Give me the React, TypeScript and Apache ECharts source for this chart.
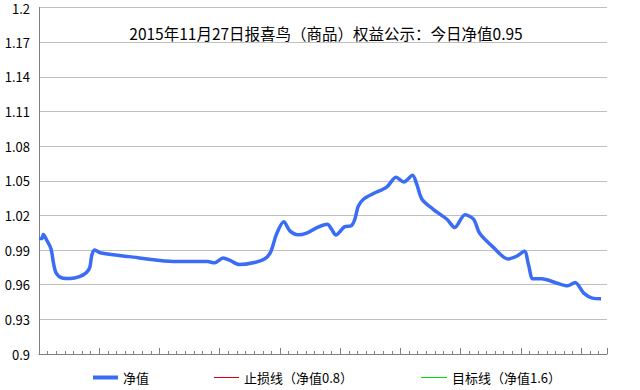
import React, { useEffect, useRef } from "react";
import * as echarts from "echarts";

const titleText = "2015年11月27日报喜鸟（商品）权益公示：今日净值0.95";
const seriesNames = ["净值", "止损线（净值0.8）", "目标线（净值1.6）"];
const yTickLabels = ["0.9", "0.93", "0.96", "0.99", "1.02", "1.05", "1.08", "1.11", "1.14", "1.17", "1.2"];

// x positions are day indices along the axis (0 .. 66)
const navX = [
  0, 0.35, 0.5, 0.9, 1.4, 1.7, 2.0, 2.7, 3.6, 4.7, 5.5, 5.9, 6.15, 6.5, 7.1, 10.5, 15.2, 17.5, 19.6, 20.4,
  21.4, 22.2, 23.3, 24.9, 26.2, 26.9, 27.6, 28.45, 29.15, 30.1, 31.1, 32.3, 33.5, 34.0, 34.5, 35.5, 36.3,
  36.7, 37.1, 37.7, 38.8, 40.4, 41.5, 42.4, 43.4, 43.9, 44.5, 45.8, 47.4, 48.3, 49.5, 50.5, 51.2, 52.8,
  54.5, 55.5, 56.4, 56.9, 57.4, 58.4, 60.2, 61.4, 62.3, 63.3, 64.3, 65.3,
];
const navY = [
  1.0, 1.0, 1.0035, 0.9985, 0.991, 0.978, 0.97, 0.9658, 0.9654, 0.967, 0.9705, 0.975, 0.986, 0.99, 0.9877,
  0.9843, 0.9803, 0.98, 0.98, 0.979, 0.9832, 0.981, 0.9774, 0.979, 0.9823, 0.988, 1.0038, 1.0144, 1.0066,
  1.0032, 1.0047, 1.0095, 1.0124, 1.008, 1.003, 1.0101, 1.0112, 1.0167, 1.028, 1.034, 1.0387, 1.0445, 1.053,
  1.049, 1.0548, 1.0468, 1.034, 1.0253, 1.0167, 1.0095, 1.0205, 1.0167, 1.0045, 0.9923, 0.9823, 0.9846,
  0.9889, 0.9766, 0.9651, 0.9651, 0.9613, 0.959, 0.962, 0.9527, 0.9484, 0.9479,
];
const stopLoss = 0.8;
const target = 1.6;
const xMax = 66;

const FONT = "'Noto Sans CJK SC', 'Noto Sans', sans-serif";

export default function App() {
  const ref = useRef<HTMLDivElement>(null);
  useEffect(() => {
    if (!ref.current) return;
    const chart = echarts.init(ref.current, null, { renderer: "svg" });
    const navData = navX.map((x, i) => [x, navY[i]]);
    chart.setOption({
      animation: false,
      backgroundColor: "#ffffff",
      textStyle: { fontFamily: FONT },
      title: {
        text: titleText,
        left: 321,
        top: 20,
        textAlign: "center",
        textStyle: { fontSize: 15.5, fontWeight: "normal", color: "#000", fontFamily: FONT },
      },
      grid: { left: 39, top: 5, right: 33, bottom: 36 },
      legend: [
        {
          data: [seriesNames[0]],
          left: 88,
          top: 366,
          icon: "rect",
          itemWidth: 25,
          itemHeight: 4,
          textStyle: { fontSize: 13, color: "#000", fontFamily: FONT },
        },
        {
          data: [seriesNames[1]],
          left: 209,
          top: 366,
          icon: "rect",
          itemWidth: 25,
          itemHeight: 1,
          textStyle: { fontSize: 13, color: "#000", fontFamily: FONT },
        },
        {
          data: [seriesNames[2]],
          left: 416,
          top: 366,
          icon: "rect",
          itemWidth: 26,
          itemHeight: 1,
          textStyle: { fontSize: 13, color: "#000", fontFamily: FONT },
        },
      ],
      xAxis: [
        {
          type: "value",
          min: 0,
          max: xMax,
          interval: 1,
          position: "bottom",
          axisLine: { show: true, lineStyle: { color: "#808080", width: 1 } },
          axisTick: { show: true, inside: true, length: 3, lineStyle: { color: "#808080" } },
          axisLabel: { show: false },
          splitLine: { show: false },
        },
        {
          type: "value",
          min: 0,
          max: xMax,
          interval: 7,
          position: "bottom",
          axisLine: { show: false },
          axisTick: { show: true, inside: true, length: 6, lineStyle: { color: "#808080" } },
          axisLabel: { show: false },
          splitLine: { show: false },
        },
      ],
      yAxis: {
        type: "value",
        min: 0.9,
        max: 1.2,
        interval: 0.03,
        axisLine: { show: true, lineStyle: { color: "#808080", width: 1 } },
        axisTick: { show: false },
        axisLabel: {
          color: "#000",
          fontSize: 13,
          lineHeight: 10,
          margin: 9,
          fontFamily: FONT,
          formatter: (v: number) => {
            const i = Math.round((v - 0.9) / 0.03);
            const s = yTickLabels[i] ?? "";
            return i === yTickLabels.length - 1 ? "{t|" + s + "}" : s;
          },
          rich: {
            t: { fontSize: 13, lineHeight: 10, padding: [2, 0, 0, 0], color: "#000", fontFamily: FONT },
          },
        },
        splitLine: { show: true, lineStyle: { color: "#c0c0c0", width: 1 } },
      },
      series: [
        {
          name: seriesNames[0],
          type: "line",
          xAxisIndex: 0,
          data: navData,
          smooth: 0.3,
          showSymbol: false,
          symbol: "none",
          lineStyle: { color: "#3a6cf4", width: 3.5 },
          itemStyle: { color: "#3a6cf4" },
        },
        {
          name: seriesNames[1],
          type: "line",
          xAxisIndex: 0,
          data: [[0, stopLoss], [xMax, stopLoss]],
          symbol: "none",
          lineStyle: { color: "#e00000", width: 1 },
          itemStyle: { color: "#e00000" },
        },
        {
          name: seriesNames[2],
          type: "line",
          xAxisIndex: 0,
          data: [[0, target], [xMax, target]],
          symbol: "none",
          lineStyle: { color: "#00e000", width: 1 },
          itemStyle: { color: "#00e000" },
        },
      ],
    });
    return () => chart.dispose();
  }, []);
  return (
    <div
      ref={ref}
      style={{ position: "fixed", left: 0, top: 0, width: 640, height: 390, background: "#fff" }}
    />
  );
}
